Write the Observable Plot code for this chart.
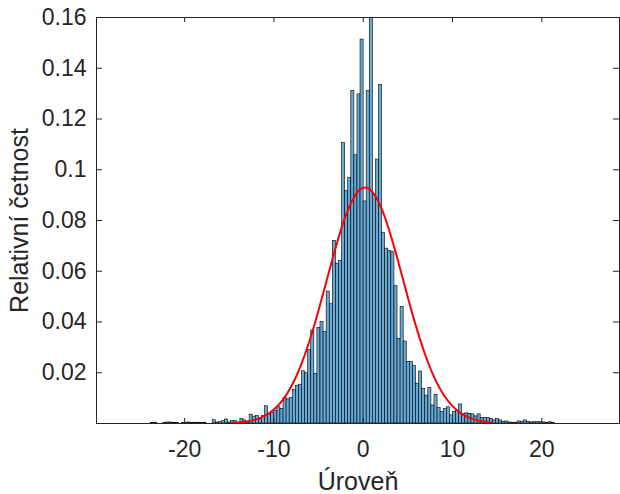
<!DOCTYPE html>
<html>
<head>
<meta charset="utf-8">
<script src="https://cdn.jsdelivr.net/npm/d3@7"></script>
<script src="https://cdn.jsdelivr.net/npm/@observablehq/plot@0.6"></script>
<style>
  html, body { margin: 0; padding: 0; background: #ffffff; }
  #chart { width: 620px; height: 494px; }
</style>
</head>
<body>
<div id="chart"></div>
<script>
// Tick labels
const xTicks = [-20, -10, 0, 10, 20];
const yTicks = [0.02, 0.04, 0.06, 0.08, 0.1, 0.12, 0.14, 0.16];
const xLabel = "Úroveň";
const yLabel = "Relativní četnost";

// Histogram: first bin edge, bin width, and bar heights
const binStart = -23.76;
const binWidth = 0.345;
const density = [
  0.0002, 0.0003, 0, 0, 0.0003, 0.0004, 0.0004, 0.0002, 0.0003, 0,
  0.0002, 0.0003, 0.0004, 0.0002, 0.0003, 0.0003, 0.0002, 0.0003, 0, 0,
  0.0013, 0.0004, 0.0005, 0.0009, 0.0016, 0.0004, 0.0010, 0.0009, 0.0003, 0.0018,
  0.0012, 0.0004, 0.0035, 0.0027, 0.0030, 0.0013, 0.0030, 0.0068, 0.0034, 0.0041,
  0.0049, 0.0064, 0.0058, 0.0101, 0.0095, 0.0100, 0.0133, 0.0149, 0.0153, 0.0206,
  0.0198, 0.0290, 0.0367, 0.0196, 0.0377, 0.0400, 0.0360, 0.0520, 0.0470, 0.0720,
  0.0630, 0.0640, 0.1105, 0.0916, 0.0967, 0.1310, 0.1057, 0.1297, 0.1513, 0.0875,
  0.1310, 0.1598, 0.0902, 0.1040, 0.1334, 0.0752, 0.0689, 0.0680, 0.0675, 0.0541,
  0.0334, 0.0459, 0.0323, 0.0242, 0.0242, 0.0226, 0.0156, 0.0205, 0.0137, 0.0110,
  0.0141, 0.0071, 0.0113, 0.0062, 0.0045, 0.0057, 0.0064, 0.0032, 0.0045, 0.0051,
  0.0075, 0.0038, 0.0040, 0.0038, 0.0036, 0.0028, 0.0036, 0.0022, 0.0021, 0.0022,
  0.0018, 0.0012, 0.0018, 0.0012, 0.0007, 0.0008, 0.0004, 0.0003, 0.0003, 0.0008,
  0.0007, 0.0012, 0.0007, 0.0004, 0.0005, 0.0005, 0.0005, 0.0004, 0.0003, 0.0005,
  0.0003
];

const curveX = [-14.6, -14, -13, -12, -11, -10, -9, -8, -7, -6, -5, -4, -3, -2, -1, 0,
                1, 2, 3, 4, 5, 6, 7, 8, 9, 10, 11, 12, 13, 14, 14.4];
const curveY = [0.00024, 0.00039, 0.00082, 0.00163, 0.00308, 0.0055, 0.00933, 0.01497,
                0.02274, 0.0327, 0.0446, 0.0576, 0.0704, 0.0815, 0.0894, 0.0929,
                0.0914, 0.0852, 0.0751, 0.0628, 0.0497, 0.0373, 0.0265, 0.0178,
                0.01134, 0.00684, 0.0039, 0.00211, 0.00108, 0.00053, 0.00039];

const bins = density
  .map((v, i) => ({x1: binStart + i * binWidth, x2: binStart + (i + 1) * binWidth, y: v}))
  .filter(d => d.y > 0);
const curve = curveX.map((x, i) => ({x, y: curveY[i]}));

const axisColor = "#262626";
const chart = Plot.plot({
  width: 620,
  height: 494,
  marginLeft: 96,
  marginRight: 1,
  marginTop: 17,
  marginBottom: 71,
  style: {fontFamily: "'Liberation Sans', Arial, Helvetica, sans-serif", color: axisColor, background: "#ffffff", overflow: "visible"},
  x: {domain: [-29.87, 28.7]},
  y: {domain: [0, 0.16]},
  marks: [
    Plot.rectY(bins, {x1: "x1", x2: "x2", y: "y", fill: "#66aad7", stroke: "#000000", strokeWidth: 0.6}),
    Plot.line(curve, {x: "x", y: "y", stroke: "#ff0000", strokeWidth: 2, curve: "natural"}),
    Plot.frame({stroke: axisColor, strokeWidth: 1}),
    Plot.tickX(xTicks, {x: d => d, stroke: axisColor, insetTop: 401}),
    Plot.tickX(xTicks, {x: d => d, stroke: axisColor, insetBottom: 401}),
    Plot.tickY(yTicks, {y: d => d, stroke: axisColor, insetRight: 517}),
    Plot.tickY(yTicks, {y: d => d, stroke: axisColor, insetLeft: 517}),
    Plot.axisX(xTicks, {tickSize: 0, tickPadding: 17, tickFormat: d => String(d), fontSize: 23, label: null}),
    Plot.axisX({ticks: [], label: xLabel, labelAnchor: "center", labelArrow: "none", labelOffset: 66, fontSize: 25}),
    Plot.axisY(yTicks, {tickSize: 0, tickPadding: 10, tickFormat: d => String(d), fontSize: 23, label: null}),
    Plot.axisY({ticks: [], label: yLabel, labelAnchor: "center", labelArrow: "none", labelOffset: 86, fontSize: 25})
  ]
});
document.getElementById("chart").appendChild(chart);
</script>
</body>
</html>
